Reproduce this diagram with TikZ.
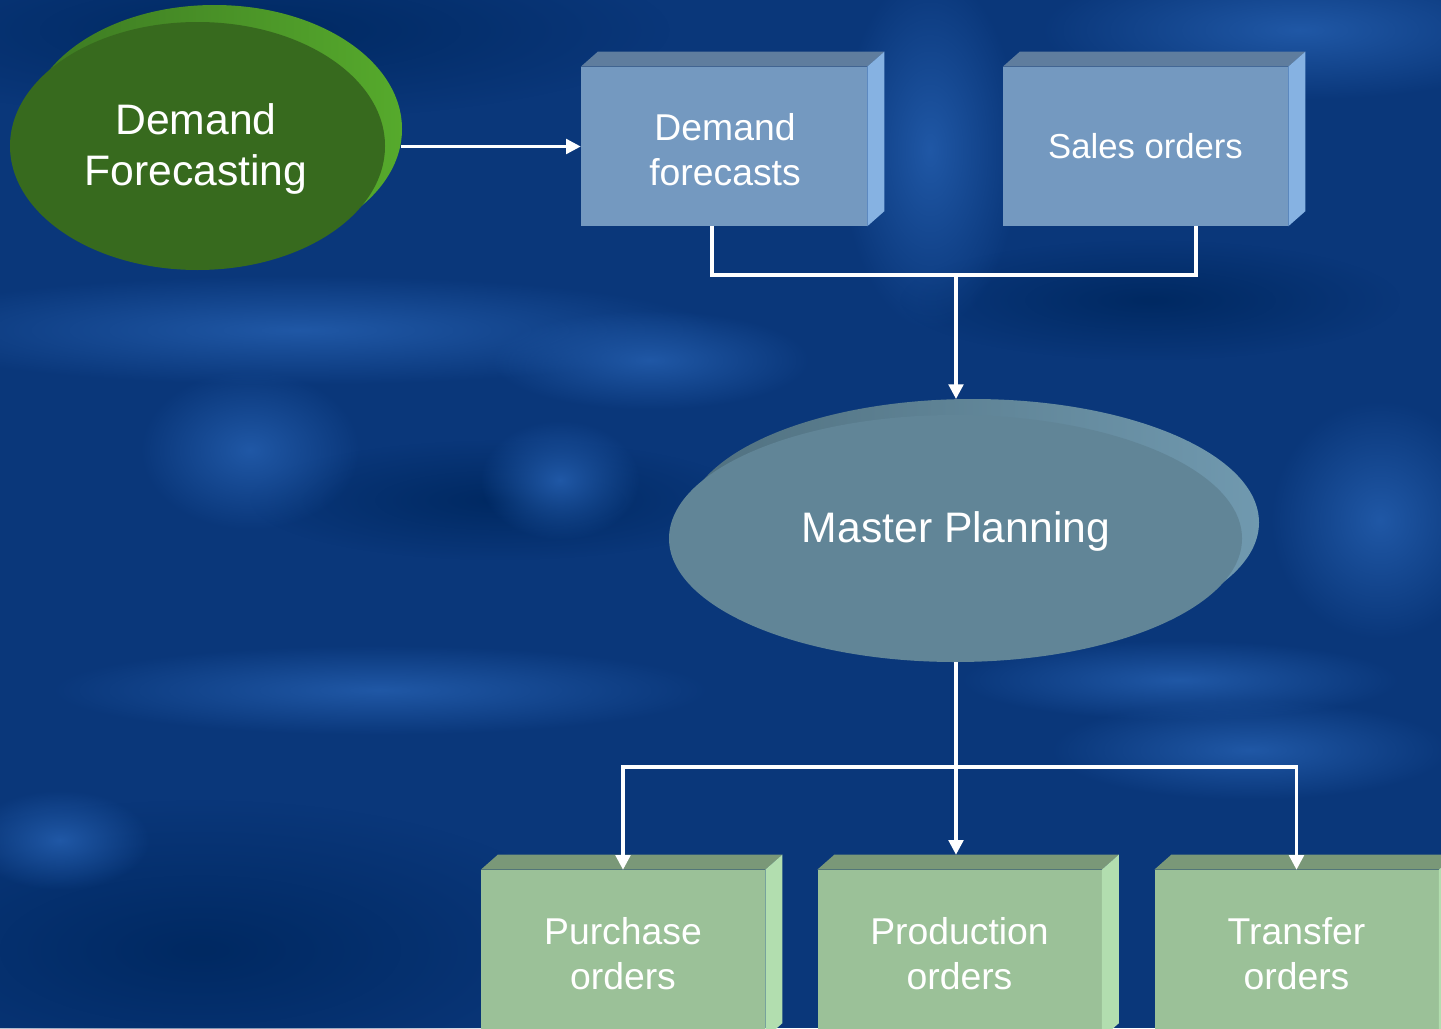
\documentclass[tikz,border=0pt]{standalone}
\usepackage{fontspec}
\setmainfont{Liberation Sans}
\usetikzlibrary{arrows.meta,shapes.geometric,fadings}
\definecolor{bgbase}{HTML}{0A377A}
\definecolor{bglight}{HTML}{2058A6}
\definecolor{bgdark}{HTML}{002962}
\definecolor{gfront}{HTML}{376A1E}
\definecolor{gbackL}{HTML}{3C7822}
\definecolor{gbackR}{HTML}{56AA2C}
\definecolor{mfront}{HTML}{618597}
\definecolor{mbackL}{HTML}{50707F}
\definecolor{mbackR}{HTML}{7099AF}
\definecolor{bfront}{HTML}{7499C0}
\definecolor{btop}{HTML}{5F7D9E}
\definecolor{bright}{HTML}{86B2E2}
\definecolor{pfront}{HTML}{9BC198}
\definecolor{ptop}{HTML}{7A9878}
\definecolor{pright}{HTML}{B2DEAF}
\tikzfading[name=softblob, inner color=transparent!0, outer color=transparent!100]
\newcommand\bevbox[3]{%
  \fill[#2] (#1.north west) -- ++(17,-15) -- ([shift={(17,-15)}]#1.north east) -- (#1.north east) -- cycle;
  \fill[#3] (#1.north east) -- ++(17,-15) -- ([shift={(17,-15)}]#1.south east) -- (#1.south east) -- cycle;}
\begin{document}
\begin{tikzpicture}[x=0.75pt,y=-0.75pt,
  bluebox/.style={rectangle, fill=bfront, inner sep=0pt, minimum width=214.5pt, minimum height=119.25pt, text=white, align=center, font=\fontsize{28}{33.75}\selectfont},
  greenbox/.style={rectangle, fill=pfront, inner sep=0pt, minimum width=213pt, minimum height=126pt, text=white, align=center, font=\fontsize{28}{33.75}\selectfont},
  blob/.style={fill=#1, path fading=softblob},
  wire/.style={draw=white, line width=2.4pt},
  arr/.style={draw=white, line width=2.4pt, -{Triangle[width=11pt,length=11pt]}}]
\clip (0,0) rectangle (1441,1028);
\fill[bgbase] (0,0) rectangle (1441,1028);
% background streaks
\fill[blob=bgdark] (250,30) ellipse [x radius=420, y radius=90];
\fill[blob=bgdark] (200,950) ellipse [x radius=400, y radius=150];
\fill[blob=bgdark] (1150,300) ellipse [x radius=250, y radius=60];
\fill[blob=bgdark] (500,500) ellipse [x radius=250, y radius=60];
\fill[blob=bglight] (1300,30) ellipse [x radius=260, y radius=70];
\fill[blob=bglight] (300,330) ellipse [x radius=420, y radius=55];
\fill[blob=bglight] (650,360) ellipse [x radius=160, y radius=50];
\fill[blob=bglight] (250,450) ellipse [x radius=110, y radius=80];
\fill[blob=bglight] (380,690) ellipse [x radius=330, y radius=45];
\fill[blob=bglight] (1380,520) ellipse [x radius=110, y radius=120];
\fill[blob=bglight] (1250,750) ellipse [x radius=200, y radius=50];
\fill[blob=bglight] (930,150) ellipse [x radius=90, y radius=180];
\fill[blob=bglight] (560,480) ellipse [x radius=80, y radius=60];
\fill[blob=bglight] (60,840) ellipse [x radius=90, y radius=50];
\fill[blob=bglight] (1180,680) ellipse [x radius=220, y radius=40];
% Demand Forecasting ellipse
\shade[left color=gbackL, right color=gbackR] (214.5,129) ellipse [x radius=187.5, y radius=124];
\node[ellipse, fill=gfront, inner sep=0pt, minimum width=281.25pt, minimum height=186pt] (fc) at (197.5,146) {};
\node[text=white, align=center, font=\fontsize{32}{38.5}\selectfont] (fct) at (196,149) {Demand\\Forecasting};
\coordinate (fcb) at (401,129);
% top boxes
\node[bluebox] (dfc) at (724,146.5) {};
\node[text=white, align=center, font=\fontsize{28}{33.75}\selectfont] (dfct) at (725,150) {Demand\\forecasts};
\node[bluebox, minimum width=213.75pt, font=\fontsize{26}{32}\selectfont] (so) at (1145.5,146.5) {Sales orders};
\bevbox{dfc}{btop}{bright}
\bevbox{so}{btop}{bright}
% Master Planning ellipse
\shade[left color=mbackL, right color=mbackR] (972.5,522.5) ellipse [x radius=286.5, y radius=123.5];
\coordinate (mpb) at (972.5,399);
\node[ellipse, fill=mfront, inner sep=0pt, minimum width=429.75pt, minimum height=185.25pt] (mp) at (955.5,538.5) {};
\node[text=white, font=\fontsize{32}{38}\selectfont] (mpt) at (956,531) {Master Planning};
% bottom boxes
\node[greenbox] (pu) at (623,954) {Purchase\\orders};
\node[greenbox] (pr) at (959.5,954) {Production\\orders};
\node[greenbox] (tr) at (1296.5,954) {Transfer\\orders};
\bevbox{pu}{ptop}{pright}
\bevbox{pr}{ptop}{pright}
\bevbox{tr}{ptop}{pright}
% connectors
\draw[arr] (fcb |- dfc.west) -- (dfc.west);
\coordinate (jt) at (956,275);
\draw[wire] ([xshift=-9pt]dfc.south) |- (jt) -| ([xshift=37.9pt]so.south);
\draw[arr] (jt) -- (jt |- mpb);
\coordinate (jb) at (956,767);
\draw[wire] (mp.south -| jb) -- (jb);
\draw[arr] (jb) -| (pu.north);
\draw[arr] (jb) -| (tr.north);
\draw[arr] (jb) -- ([yshift=11.25pt]jb |- pr.north);
\end{tikzpicture}
\end{document}
